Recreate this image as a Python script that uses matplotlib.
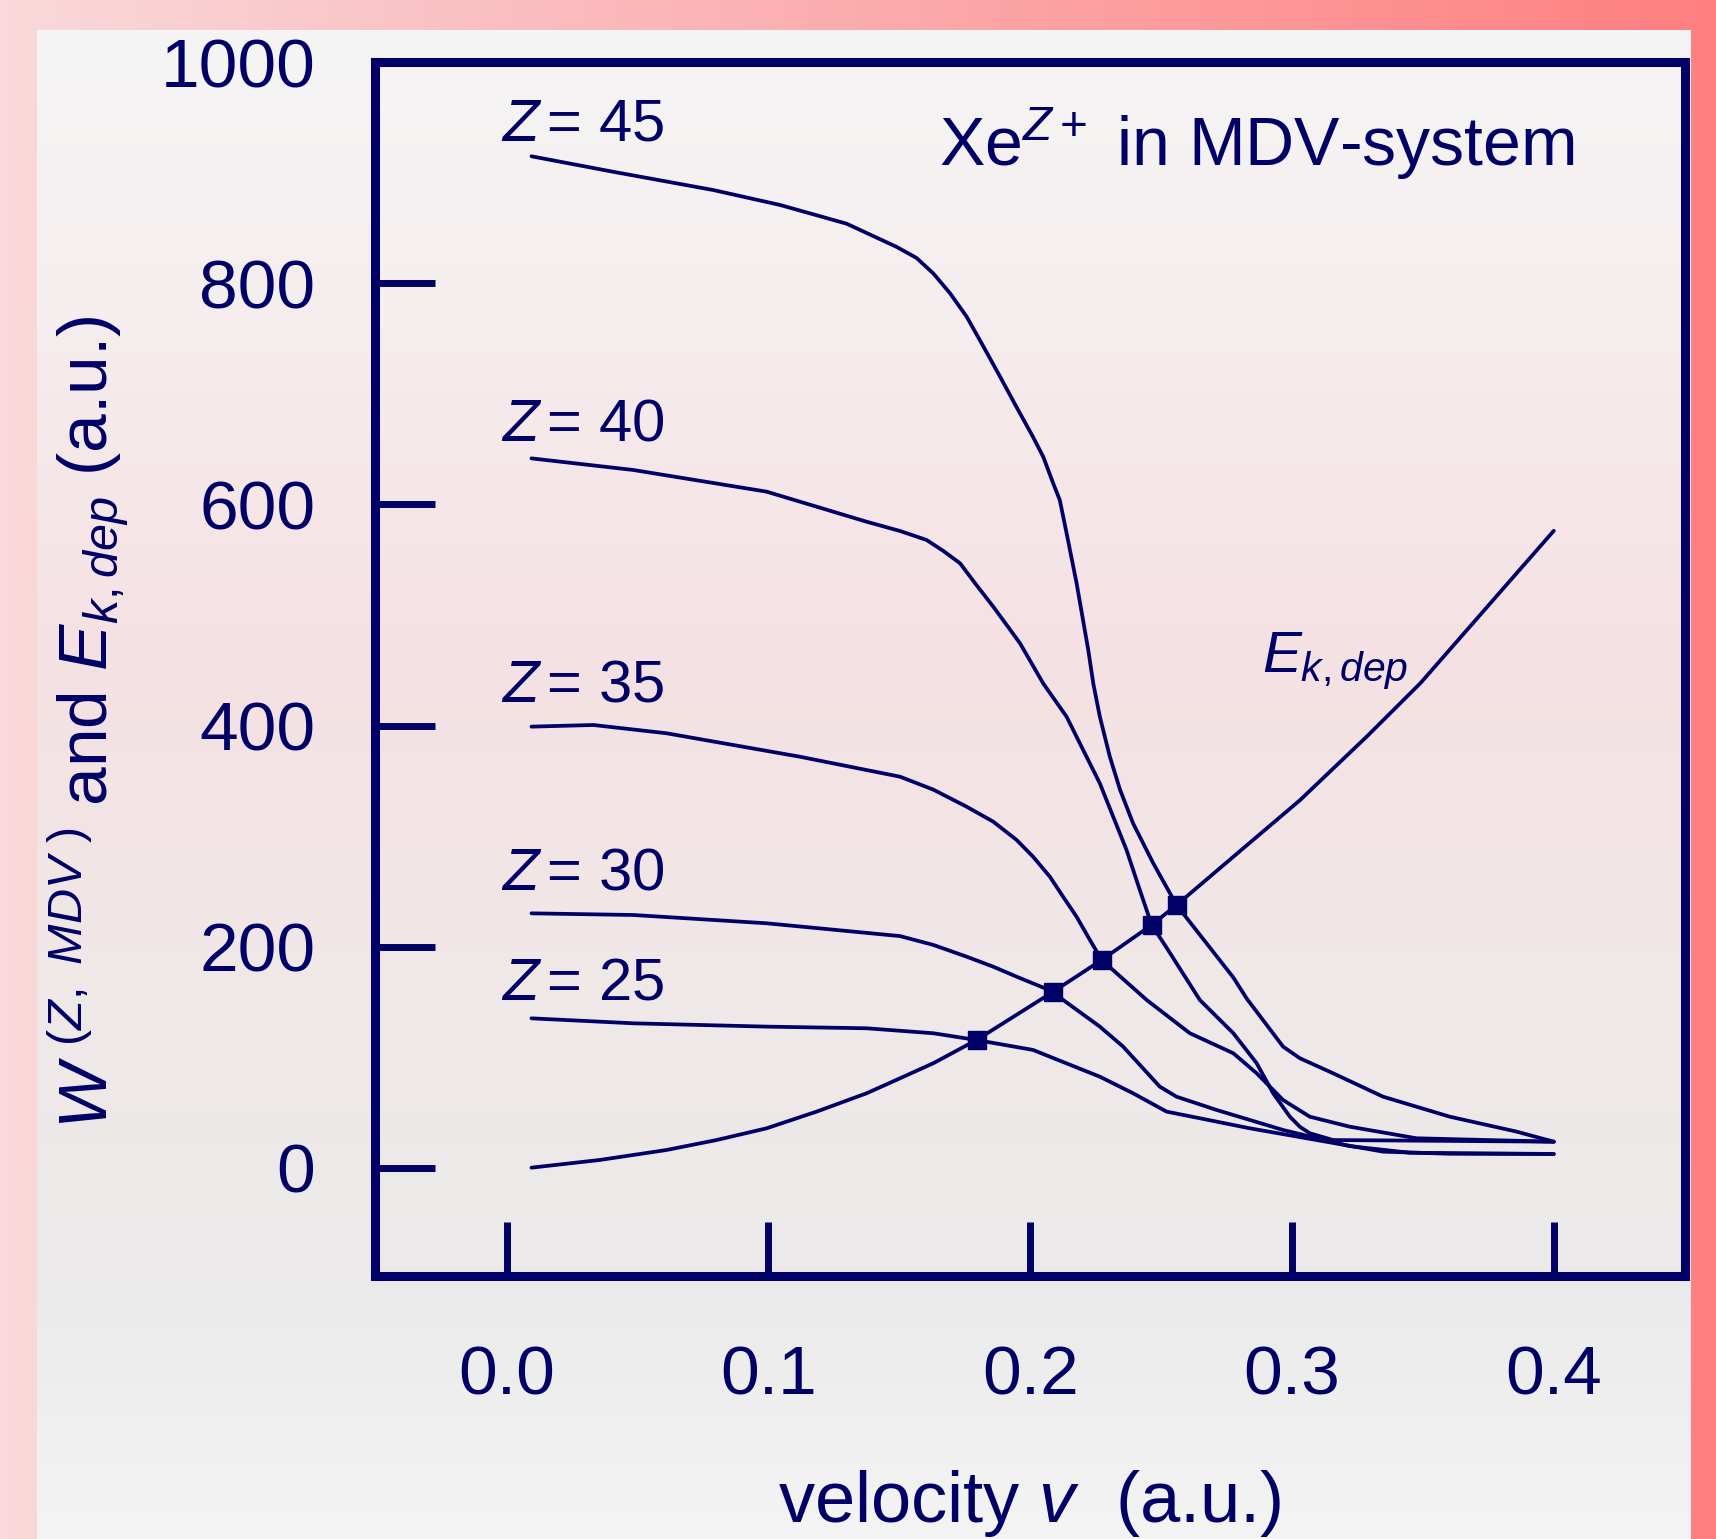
import numpy as np
import matplotlib
matplotlib.use("Agg")
import matplotlib.pyplot as plt

# values: velocity v (a.u.) vs W^(Z,MDV) (a.u.)
v_z45 = [0.0095, 0.0407, 0.0789, 0.1044, 0.1299, 0.149, 0.1566, 0.163, 0.1694,
         0.1757, 0.1821, 0.1884, 0.1948, 0.2011, 0.2050, 0.2088, 0.2113, 0.2139,
         0.2177, 0.2222, 0.2241, 0.2266, 0.2304, 0.2343, 0.2393, 0.247, 0.2559,
         0.2776, 0.2827, 0.2966, 0.3030, 0.3157, 0.3348, 0.3603, 0.3858, 0.4]
w_z45 = [915, 901, 884.5, 871, 854, 833, 823, 809, 791,
         770, 743, 716, 688, 661, 643, 619, 604, 574,
         529, 468, 438, 408, 372, 342, 311.5, 275.4, 237.6,
         172, 153, 109.5, 99, 85.4, 64.2, 46.1, 32.6, 23.5]

v_z40 = [0.0095, 0.0484, 0.0993, 0.1375, 0.1503, 0.1604, 0.1668, 0.1732, 0.1795,
         0.1859, 0.191, 0.1961, 0.205, 0.2139, 0.2202, 0.2266, 0.2317, 0.2368,
         0.2419, 0.2464, 0.2521, 0.2648, 0.2776, 0.2865, 0.2928, 0.2992, 0.3030,
         0.3068, 0.3157, 0.4]
w_z40 = [641.7, 631.2, 611.6, 584.4, 576, 567.9, 558, 546.8, 527,
         507.5, 491, 474.4, 438, 408, 378, 347.7, 317.5, 287.4,
         251, 219.6, 199, 151.7, 121.6, 94.5, 67.3, 46.1, 37,
         31.1, 25, 23.5]

v_z35 = [0.0095, 0.0331, 0.0611, 0.112, 0.1503, 0.163, 0.1757, 0.1859, 0.1948,
         0.2011, 0.2075, 0.2126, 0.2177, 0.2228, 0.2273, 0.2445, 0.261, 0.2776,
         0.2865, 0.2966, 0.3068, 0.322, 0.3475, 0.4]
w_z35 = [399, 400.5, 393, 371.8, 353.7, 342, 326.6, 313, 296.5,
         281.3, 263.3, 245, 227.1, 206, 187.9, 151.7, 121.6, 103.5,
         85.4, 61.2, 46.1, 37.1, 26.6, 23.5]

v_z30 = [0.0095, 0.0484, 0.0993, 0.1503, 0.163, 0.1757, 0.1859, 0.1948, 0.2088,
         0.2126, 0.2266, 0.2355, 0.2495, 0.2559, 0.2712, 0.2966, 0.322, 0.345, 0.4]
w_z30 = [230.1, 228.6, 221.1, 209.5, 201.5, 190.9, 181.8, 172.8, 159.2,
         151.7, 127.6, 109.5, 73.3, 64.2, 52.2, 34.1, 19.5, 13.5, 12.4]

v_z25 = [0.0095, 0.0484, 0.0993, 0.1375, 0.163, 0.1795, 0.2011, 0.2075, 0.2266,
         0.2393, 0.2521, 0.2648, 0.2839, 0.3094, 0.3348, 0.36, 0.4]
w_z25 = [135.1, 130.6, 127.6, 126.1, 121.6, 115.5, 106.5, 100.4, 82.3,
         67.3, 50.7, 44.7, 35.6, 25, 14.5, 12.6, 12.4]

v_ek = [0.0095, 0.0357, 0.0611, 0.0802, 0.0993, 0.1184, 0.1375, 0.1503, 0.163,
        0.1795, 0.2088, 0.2273, 0.2464, 0.2559, 0.2776, 0.3031, 0.3285, 0.349, 0.4]
e_kdep = [0, 7, 16, 25, 35.6, 50.7, 67.3, 80.9, 94.5,
          115.5, 159.2, 187.9, 219.6, 237.6, 281.3, 332.6, 389.9, 438.2, 576.2]

# crossings W = E_k,dep
cross_v = [0.1795, 0.2088, 0.2273, 0.2464, 0.2559]
cross_w = [115.5, 159.2, 187.9, 219.6, 237.6]

curves = [(v_z25, w_z25, "25", 152.3), (v_z30, w_z30, "30", 251.8),
          (v_z35, w_z35, "35", 421.6), (v_z40, w_z40, "40", 657.7),
          (v_z45, w_z45, "45", 929.7)]

x_ticks = [0.0, 0.1, 0.2, 0.3, 0.4]
y_ticks = [0, 200, 400, 600, 800, 1000]

navy = "#000066"
plt.rcParams["font.family"] = "Liberation Sans"
plt.rcParams["mathtext.fontset"] = "custom"
plt.rcParams["mathtext.rm"] = "Liberation Sans"
plt.rcParams["mathtext.it"] = "Liberation Sans:italic"
plt.rcParams["mathtext.bf"] = "Liberation Sans:bold"

W, H = 1716, 1539
fig = plt.figure(figsize=(W / 100, H / 100), dpi=100)

# background: pink-red frame and light panel
bg = fig.add_axes([0, 0, 1, 1], zorder=-10)
bg.set_xlim(0, W)
bg.set_ylim(H, 0)
bg.axis("off")
t = np.linspace(0, 1, 256)
left_c, right_c = np.array([249, 217, 219]), np.array([255, 127, 128])
outer = (left_c[None, :] * (1 - t[:, None]) + right_c[None, :] * t[:, None]) / 255
bg.imshow(outer[None, :, :], extent=[0, W, H, 0], aspect="auto")
stops_y = [30, 300, 650, 1000, 1280, 1539]
stops_c = np.array([[245, 245, 245], [245, 238, 239], [245, 225, 227],
                    [240, 232, 232], [235, 234, 234], [244, 244, 244]]) / 255
rows = np.arange(30, 1539)
panel = np.stack([np.interp(rows, stops_y, stops_c[:, k]) for k in range(3)], axis=1)
bg.imshow(panel[:, None, :], extent=[37, 1691, 1539, 30], aspect="auto")

ax = fig.add_axes([0.2185, 0.1709, 0.7634, 0.7888])
ax.set_facecolor("none")

for v, w, z, ly in curves:
    ax.plot(v, w, color=navy, lw=2.7, solid_capstyle="round",
            solid_joinstyle="round")
    ax.text(-0.002, ly, r"$Z\,$= " + z, fontsize=43, color=navy,
            ha="left", va="baseline")
ax.plot(v_ek, e_kdep, color=navy, lw=2.7, solid_capstyle="round",
        solid_joinstyle="round")
ax.plot(cross_v, cross_w, ls="none", marker="s", ms=13, mew=1,
        color=navy, zorder=5)

ax.text(0.2884, 448.7, r"$E_{k,dep}$", fontsize=42, color=navy,
        ha="left", va="baseline")
ax.text(0.1651, 906.2, r"Xe$^{Z+}$ in MDV-system", fontsize=49, color=navy,
        ha="left", va="baseline")

ax.set_xlim(-0.0503, 0.4501)
ax.set_ylim(-98, 1000.3)
ax.set_xticks(x_ticks)
ax.set_xticklabels(["%.1f" % x for x in x_ticks])
ax.set_yticks(y_ticks)
ax.set_yticklabels([str(y) for y in y_ticks])
ax.tick_params(axis="y", direction="in", length=43, width=5, pad=43,
               labelsize=50, color=navy, labelcolor=navy)
ax.tick_params(axis="x", direction="in", length=39, width=5, pad=49,
               labelsize=50, color=navy, labelcolor=navy)
for sp in ax.spines.values():
    sp.set_linewidth(6.5)
    sp.set_color(navy)
    sp.set_capstyle("projecting")

fig.text(1030 / W, 1 - 1522 / H, r"velocity $v$  (a.u.)", fontsize=52,
         color=navy, ha="center", va="baseline")
fig.text(108 / W, 1 - 722 / H, r"$W^{\ (Z,\ MDV\ )}$ and $E_{k,dep}$ (a.u.)",
         fontsize=50, color=navy, rotation=90, rotation_mode="anchor",
         ha="center", va="baseline")

fig.savefig("out.png", dpi=100)
